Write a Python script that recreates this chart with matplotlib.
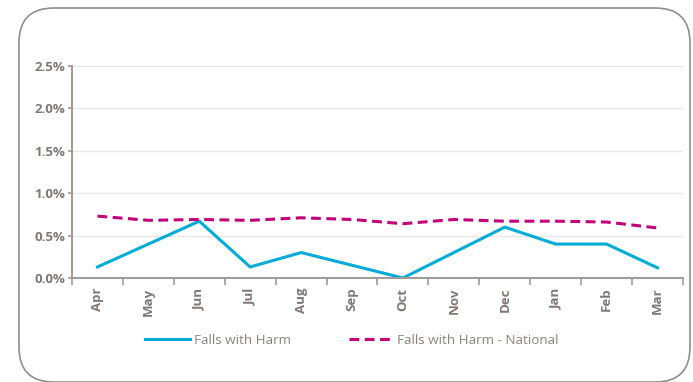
import matplotlib.pyplot as plt
import matplotlib.patches as patches
from matplotlib.ticker import FuncFormatter, FixedLocator
import numpy as np

plt.rcParams["font.family"] = ["Open Sans", "DejaVu Sans"]

months = ["Apr", "May", "Jun", "Jul", "Aug", "Sep",
          "Oct", "Nov", "Dec", "Jan", "Feb", "Mar"]
falls_with_harm = [0.13, 0.40, 0.67, 0.13, 0.30, 0.15,
                   0.00, 0.30, 0.60, 0.40, 0.40, 0.12]
falls_national = [0.73, 0.68, 0.69, 0.68, 0.71, 0.69,
                  0.64, 0.69, 0.67, 0.67, 0.66, 0.59]
y_ticks = [0.0, 0.5, 1.0, 1.5, 2.0, 2.5]

TEXT = "#7f7873"
AXIS = "#a09a96"
BLUE = "#00acd7"
MAGENTA = "#c2007c"

fig = plt.figure(figsize=(6.93, 3.82), dpi=100)

# rounded frame around the whole panel
frame = patches.FancyBboxPatch(
    (19 / 693, 0 / 382), 671 / 693, 374 / 382,
    boxstyle="round,pad=0,rounding_size=0.05",
    transform=fig.transFigure, fill=False, edgecolor="#8f8f8f", linewidth=1.2,
    mutation_aspect=693 / 382,
)
fig.patches.append(frame)

ax = fig.add_axes([72 / 693, 1 - 278 / 382, 611 / 693, 212 / 382])
x = np.arange(len(months))
ax.plot(x, falls_with_harm, color=BLUE, linewidth=2.2,
        label="Falls with Harm", solid_joinstyle="miter")
ax.plot(x, falls_national, color=MAGENTA, linewidth=2.2,
        linestyle=(0, (3.2, 1.8)), label="Falls with Harm - National")

ax.set_xlim(-0.5, len(months) - 0.5)
ax.set_ylim(0, 2.5)
ax.set_yticks(y_ticks)
ax.yaxis.set_major_formatter(FuncFormatter(lambda v, _: f"{v:.1f}%"))
ax.grid(axis="y", color="#e8e8e8", linewidth=1)
ax.set_axisbelow(True)

ax.set_xticks(x)
ax.set_xticklabels(months, rotation=90)
ax.xaxis.set_minor_locator(FixedLocator(np.arange(-0.5, len(months), 1)))
ax.tick_params(axis="x", which="major", length=0, pad=7)
ax.tick_params(axis="x", which="minor", length=5, color=AXIS, width=1.2)
ax.tick_params(axis="y", length=3, color=AXIS, width=1.2, pad=2)
for lbl in ax.get_xticklabels() + ax.get_yticklabels():
    lbl.set_color(TEXT)
    lbl.set_fontweight("bold")
    lbl.set_fontsize(9.5)

for side in ("top", "right"):
    ax.spines[side].set_visible(False)
for side in ("left", "bottom"):
    ax.spines[side].set_color(AXIS)
    ax.spines[side].set_linewidth(1.4)

leg = fig.legend(loc="center", bbox_to_anchor=(0.508, 1 - 340 / 382), ncol=2,
                 frameon=False, fontsize=9.7, handlelength=3.3,
                 columnspacing=4.3, handletextpad=0.3)
for t in leg.get_texts():
    t.set_color("#8a8480")

fig.savefig("out.png", dpi=100)
